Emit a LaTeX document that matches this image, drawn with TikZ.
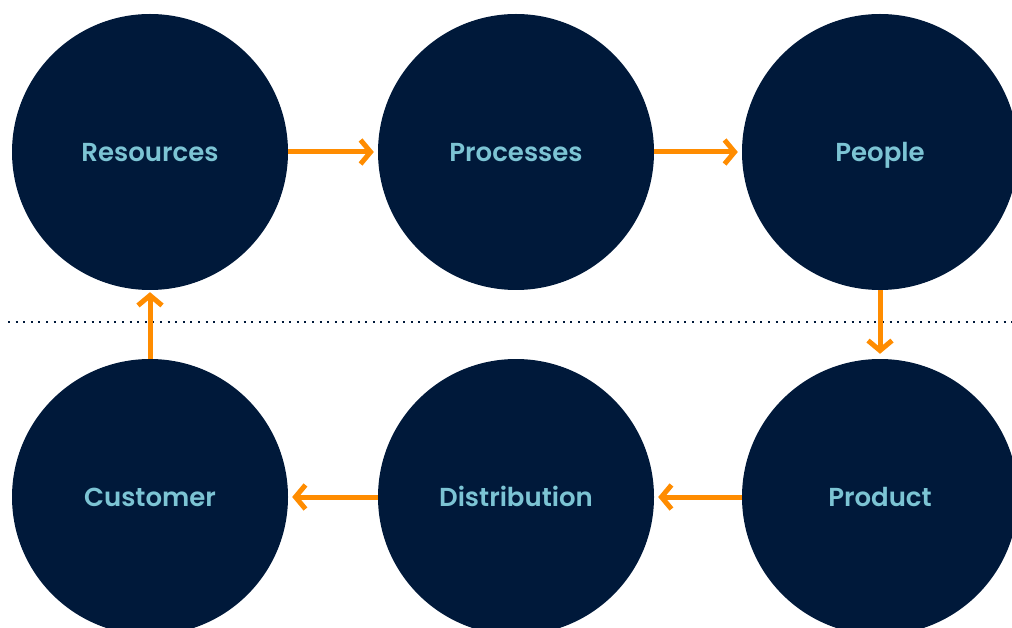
\documentclass[tikz,border=0pt]{standalone}
\usepackage{fontspec}
\setmainfont{Poppins}[UprightFont=* SemiBold, BoldFont=* SemiBold]
\usetikzlibrary{arrows.meta}
\definecolor{navy}{HTML}{00193A}
\definecolor{sky}{HTML}{7CC4D4}
\definecolor{tangerine}{HTML}{FF8C00}
\tikzset{
  stage/.style={circle, fill=navy, minimum size=276pt, inner sep=0pt, text=sky,
    text height=22pt, text depth=3pt, font=\fontsize{26}{30}\selectfont},
  flow/.style={draw=tangerine, line width=5pt, -{Straight Barb[length=10pt, width=24pt, line width=5pt]}},
}
\begin{document}
\begin{tikzpicture}[x=1pt, y=-1pt]
\useasboundingbox (0,0) rectangle (1012,628);
\draw[navy, line width=2pt, dash pattern=on 2pt off 5.6pt] (8,322) -- (1012,322);
\node[stage] (res) at (150,152) {Resources};
\node[stage] (proc) at (516,152) {Processes};
\node[stage] (peop) at (880,152) {People};
\node[stage] (prod) at (880,497) {Product};
\node[stage] (dist) at (516,497) {Distribution};
\node[stage] (cust) at (150,497) {Customer};
\draw[flow, shorten >=4pt] (res) -- (proc);
\draw[flow, shorten >=4pt] (proc) -- (peop);
\draw[flow, shorten >=5pt] (peop) -- (prod);
\draw[flow, shorten >=4pt] (prod) -- (dist);
\draw[flow, shorten >=4pt] (dist) -- (cust);
\draw[flow, shorten >=2pt] (cust) -- (res);
\end{tikzpicture}
\end{document}
